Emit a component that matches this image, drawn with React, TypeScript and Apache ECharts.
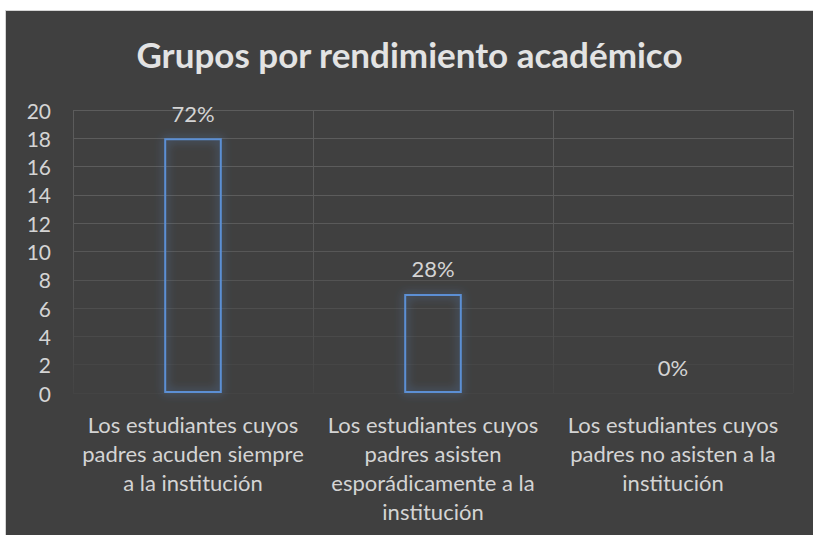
import React, { useEffect, useRef } from "react";
import * as echarts from "echarts";

const categories = [
  "Los estudiantes cuyos\npadres acuden siempre\na la institución",
  "Los estudiantes cuyos\npadres asisten\nesporádicamente a la\ninstitución",
  "Los estudiantes cuyos\npadres no asisten a la\ninstitución",
];
const counts = [18, 7, 0];
const percentLabels = ["72%", "28%", "0%"];
const yTicks = { min: 0, max: 20, interval: 2 };
const titleText = "Grupos por rendimiento académico";

const FONT = "Lato, 'Open Sans', sans-serif";

export default function App() {
  const ref = useRef<HTMLDivElement>(null);
  useEffect(() => {
    if (!ref.current) return;
    const chart = echarts.init(ref.current, null, { renderer: "svg" });
    const gridTop = 99;
    const gridBottomPx = 524 - 142;
    chart.setOption({
      animation: false,
      backgroundColor: "#404040",
      textStyle: { fontFamily: FONT },
      title: {
        text: titleText,
        left: "center",
        top: 20,
        textStyle: { color: "#e3e3e3", fontSize: 35, fontWeight: "bold", fontFamily: FONT },
      },
      grid: { left: 67, right: 20, top: gridTop, bottom: 142, containLabel: false },
      xAxis: {
        type: "category",
        data: categories,
        axisLine: { show: false },
        axisTick: { show: false },
        axisLabel: {
          color: "#d4d4d4",
          fontSize: 22,
          lineHeight: 29,
          margin: 17,
          interval: 0,
          fontFamily: FONT,
        },
        splitLine: {
          show: true,
          interval: 0,
          lineStyle: {
            width: 1,
            color: new echarts.graphic.LinearGradient(
              0, gridTop, 0, gridBottomPx,
              [
                { offset: 0, color: "#5c5c5c" },
                { offset: 0.6, color: "#555555" },
                { offset: 1, color: "#444444" },
              ],
              true
            ),
          },
        },
      },
      yAxis: {
        type: "value",
        min: yTicks.min,
        max: yTicks.max,
        interval: yTicks.interval,
        axisLine: { show: false },
        axisTick: { show: false },
        axisLabel: { color: "#d4d4d4", fontSize: 21, margin: 22, fontFamily: FONT },
        splitLine: {
          show: true,
          lineStyle: {
            width: 1,
            color: [
              "#444444", "#464646", "#4a4a4a", "#4e4e4e", "#535353",
              "#575757", "#5a5a5a", "#5c5c5c", "#5c5c5c", "#5c5c5c", "#5c5c5c",
            ],
          },
        },
      },
      series: [
        {
          type: "bar",
          data: counts,
          barWidth: "24%",
          itemStyle: {
            color: "rgba(0,0,0,0)",
            borderColor: "#5b8fd4",
            borderWidth: 2,
            shadowBlur: 10,
            shadowColor: "rgba(91,143,212,0.75)",
          },
          label: {
            show: true,
            position: "top",
            distance: 14,
            color: "#d4d4d4",
            fontSize: 22,
            fontFamily: FONT,
            formatter: (p: any) => percentLabels[p.dataIndex],
          },
        },
      ],
    });
    return () => chart.dispose();
  }, []);
  return (
    <div style={{ position: "fixed", left: 0, top: 0, width: 813, height: 535, background: "#ffffff" }}>
      <div
        style={{
          position: "absolute",
          left: 5,
          top: 10,
          width: 808,
          height: 525,
          boxSizing: "border-box",
          border: "1px solid #d4d4d4",
          borderRight: "none",
          borderBottom: "none",
        }}
      >
        <div ref={ref} style={{ width: 807, height: 524 }} />
      </div>
    </div>
  );
}
